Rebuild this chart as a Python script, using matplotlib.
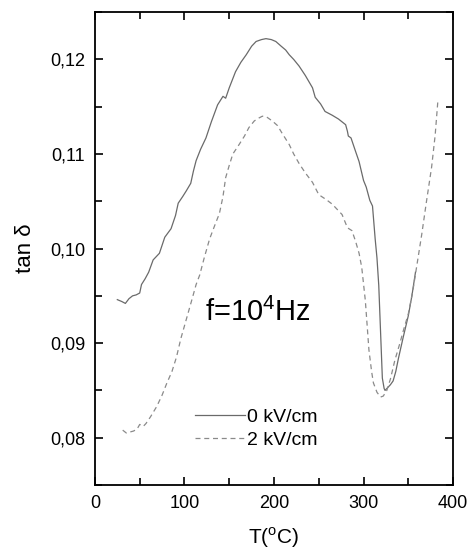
import matplotlib.pyplot as plt
from matplotlib.ticker import MultipleLocator, FuncFormatter

plt.rcParams['font.family'] = ['Liberation Sans', 'DejaVu Sans']
plt.rcParams['mathtext.fontset'] = 'custom'
plt.rcParams['mathtext.rm'] = 'Liberation Sans'

# 0 kV/cm
t0 = [25, 30, 34, 38, 42, 46, 50, 52, 56, 60, 65, 72, 78, 85, 90, 93, 98, 102, 107,
      110, 113, 118, 124, 130, 137, 143, 146, 150, 157, 163, 169, 175, 180, 186, 191,
      197, 202, 208, 213, 217, 222, 228, 235, 243, 246, 252, 257, 265, 272, 280, 282,
      283, 286, 291, 295, 298, 300, 303, 305, 307, 310, 313, 315, 317, 319, 321, 323,
      324, 327, 330, 333, 336, 339, 344, 350, 354, 358]
y0 = [0.0946, 0.0944, 0.0942, 0.0947, 0.0950, 0.0951, 0.0953, 0.0962, 0.0968, 0.0975,
      0.0988, 0.0995, 0.1012, 0.1021, 0.1035, 0.1048, 0.1055, 0.1061, 0.1069,
      0.1082, 0.1093, 0.1105, 0.1117, 0.1134, 0.1152, 0.1161, 0.1159, 0.1170,
      0.1187, 0.1197, 0.1205, 0.1214, 0.1219, 0.1221, 0.1222,
      0.1221, 0.1219, 0.1214, 0.1210, 0.1205, 0.1200, 0.1193, 0.1183, 0.1170,
      0.1160, 0.1153, 0.1145, 0.1141, 0.1137, 0.1131, 0.1124, 0.1119, 0.1117,
      0.1103, 0.1092, 0.1080, 0.1072, 0.1065, 0.1058, 0.1051, 0.1045, 0.1010,
      0.0990, 0.0961, 0.0912, 0.0863, 0.0852, 0.0850, 0.0853, 0.0856, 0.0860,
      0.0870, 0.0884, 0.0905, 0.0929, 0.0950, 0.0975]

# 2 kV/cm
t2 = [31, 35, 39, 43, 47, 50, 54, 57, 62, 69, 75, 80, 86, 91, 96, 102, 108, 113,
      117, 122, 128, 134, 139, 143, 146, 150, 154, 161, 167, 172, 178, 183, 187,
      192, 198, 204, 209, 217, 222, 228, 235, 243, 250, 258, 265, 270, 276, 282,
      287, 291, 295, 298, 302, 306, 309, 311, 315, 319, 322, 326, 330, 335, 340,
      345, 350, 355, 360, 365, 370, 376, 380, 383]
y2 = [0.0808, 0.0805, 0.0806, 0.0807, 0.0809, 0.0814, 0.0812, 0.0815, 0.0822,
      0.0833, 0.0845, 0.0857, 0.0870, 0.0885, 0.0905, 0.0925, 0.0945, 0.0962,
      0.0972, 0.0990, 0.1010, 0.1025, 0.1037, 0.1055, 0.1075, 0.1088, 0.1100,
      0.1110, 0.1119, 0.1128, 0.1135, 0.1138, 0.1140, 0.1139, 0.1135, 0.1130,
      0.1122, 0.1110, 0.1100, 0.1090, 0.1080, 0.1070, 0.1057, 0.1052, 0.1047,
      0.1042, 0.1036, 0.1022, 0.1019, 0.1008, 0.0995, 0.0980, 0.0945, 0.0893,
      0.0870, 0.0858, 0.0848, 0.0843, 0.0844, 0.0850, 0.0862, 0.0882, 0.0898,
      0.0915, 0.0931, 0.0955, 0.0985, 0.1015, 0.1048, 0.1086, 0.1120, 0.1156]

fig = plt.figure(figsize=(4.7, 5.53), dpi=100)
ax = fig.add_axes([0.202, 0.123, 0.762, 0.855])

ax.plot(t0, y0, '-', color='#6a6a6a', lw=0.9, label='0 kV/cm')
ax.plot(t2, y2, '--', color='#8a8a8a', lw=0.9, dashes=(4, 3), label='2 kV/cm')

ax.set_xlim(0, 400)
ax.set_ylim(0.075, 0.125)
ax.xaxis.set_major_locator(MultipleLocator(100))
ax.xaxis.set_minor_locator(MultipleLocator(50))
ax.yaxis.set_major_locator(MultipleLocator(0.01))
ax.yaxis.set_minor_locator(MultipleLocator(0.005))
ax.yaxis.set_major_formatter(FuncFormatter(lambda v, p: f'{v:.2f}'.replace('.', ',')))
ax.tick_params(which='both', direction='in', top=True, right=True, labelsize=13, width=1.2)
ax.tick_params(which='major', length=6, pad=7)
ax.tick_params(which='minor', length=5)
for s in ax.spines.values():
    s.set_linewidth(1.3)

ax.set_xlabel(r'T($^\mathrm{o}$C)', fontsize=15, labelpad=10)
ax.set_ylabel('tan δ', fontsize=16, labelpad=10)
ax.text(0.455, 0.365, r'f=10$^\mathrm{4}$Hz', transform=ax.transAxes,
        fontsize=21, ha='center', va='center')
ax.legend(loc='lower left', bbox_to_anchor=(0.23, 0.04), frameon=False,
          fontsize=14, handlelength=2.6, handletextpad=0.1, labelspacing=0.25)

fig.savefig('out.png', dpi=100)
